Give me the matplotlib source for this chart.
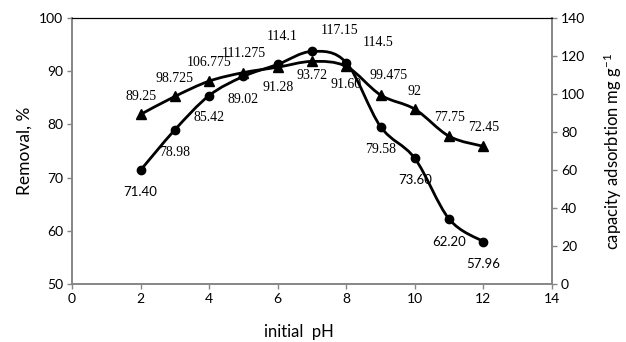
import matplotlib
matplotlib.use("Agg")
import matplotlib.pyplot as plt
from matplotlib.path import Path
from matplotlib.patches import PathPatch
import numpy as np

ph = [2, 3, 4, 5, 6, 7, 8, 9, 10, 11, 12]
removal = [71.40, 78.98, 85.42, 89.02, 91.28, 93.72, 91.60, 79.58, 73.60, 62.20, 57.96]
capacity = [89.25, 98.725, 106.775, 111.275, 114.1, 117.15, 114.5, 99.475, 92, 77.75, 72.45]
removal_labels = ["71.40", "78.98", "85.42", "89.02", "91.28", "93.72", "91.60", "79.58", "73.60", "62.20", "57.96"]
capacity_labels = ["89.25", "98.725", "106.775", "111.275", "114.1", "117.15", "114.5", "99.475", "92", "77.75", "72.45"]

GRAY = "#868686"
SANS = "Lato"
SERIF = "Liberation Serif"
plt.rcParams["mathtext.fontset"] = "custom"
plt.rcParams["mathtext.rm"] = SANS
plt.rcParams["mathtext.it"] = SANS
plt.rcParams["mathtext.default"] = "regular"

fig = plt.figure(figsize=(6.26, 3.42), dpi=100)
ax1 = fig.add_axes([72/626, 1-284/342, 480/626, 266/342])
ax2 = ax1.twinx()

def smooth_path(ax, xs, ys, **kw):
    pts = np.column_stack([xs, ys]).astype(float)
    n = len(pts)
    verts = [pts[0]]
    codes = [Path.MOVETO]
    for i in range(n - 1):
        p0 = pts[max(i - 1, 0)]
        p1 = pts[i]
        p2 = pts[i + 1]
        p3 = pts[min(i + 2, n - 1)]
        c1 = p1 + (p2 - p0) / 6.0
        c2 = p2 - (p3 - p1) / 6.0
        verts += [c1, c2, p2]
        codes += [Path.CURVE4] * 3
    patch = PathPatch(Path(verts, codes), fill=False, **kw)
    ax.add_patch(patch)

smooth_path(ax1, ph, removal, lw=2.0, edgecolor="black", capstyle="round", joinstyle="round", zorder=3)
ax1.plot(ph, removal, ls="none", marker="o", ms=6, color="black", zorder=4)
smooth_path(ax2, ph, capacity, lw=2.0, edgecolor="black", capstyle="round", joinstyle="round", zorder=3)
ax2.plot(ph, capacity, ls="none", marker="^", ms=6.5, color="black", zorder=4)

ax1.set_xlim(0, 14)
ax1.set_ylim(50, 100)
ax2.set_ylim(0, 140)
ax1.set_xticks(range(0, 15, 2))
ax1.set_yticks(range(50, 101, 10))
ax2.set_yticks(range(0, 141, 20))

for ax in (ax1, ax2):
    for s in ("left", "right", "bottom"):
        ax.spines[s].set_color(GRAY)
        ax.spines[s].set_linewidth(1.2)
    ax.spines["top"].set_color("black")
    ax.spines["top"].set_linewidth(0.8)
    ax.tick_params(direction="out", length=3.5, width=1, color=GRAY, labelsize=10, pad=3)
    for lab in ax.get_xticklabels() + ax.get_yticklabels():
        lab.set_fontfamily(SANS)

ax1.set_ylabel("Removal, %", fontsize=12.5, fontfamily=SANS)
ax1.yaxis.set_label_coords(-0.083, 0.5)
ax2.set_ylabel("capacity adsorbtion mg g$^{-1}$", fontsize=12, fontfamily=SANS)
ax2.yaxis.set_label_coords(1.104, 0.5)
ax1.set_xlabel("initial  pH", fontsize=12, fontfamily=SANS)
ax1.xaxis.set_label_coords(0.472, -0.152)

# label offsets in pixels
cap_off = [(0, 18), (0, 18), (0, 19), (0, 19), (4, 31), (28, 31), (32, 24), (8, 19), (0, 18), (0, 19), (0, 19)]
rem_off = [(0, -22), (0, -23), (0, -22), (0, -23), (0, -23), (0, -24), (0, -22), (0, -23), (0, -22), (0, -23), (0, -22)]
rem_fonts = [SANS, SERIF, SERIF, SERIF, SERIF, SERIF, SERIF, SERIF, SANS, SANS, SANS]

for x, y, t, (dx, dy) in zip(ph, capacity, capacity_labels, cap_off):
    ax2.annotate(t, (x, y), xytext=(dx, dy), textcoords="offset pixels",
                 ha="center", va="center", fontsize=10, fontfamily=SERIF, zorder=5)
for x, y, t, (dx, dy), f in zip(ph, removal, removal_labels, rem_off, rem_fonts):
    ax1.annotate(t, (x, y), xytext=(dx, dy), textcoords="offset pixels",
                 ha="center", va="center", fontsize=10 if f == SERIF else 9.5, fontfamily=f, zorder=5)

fig.savefig("out.png", dpi=100)
